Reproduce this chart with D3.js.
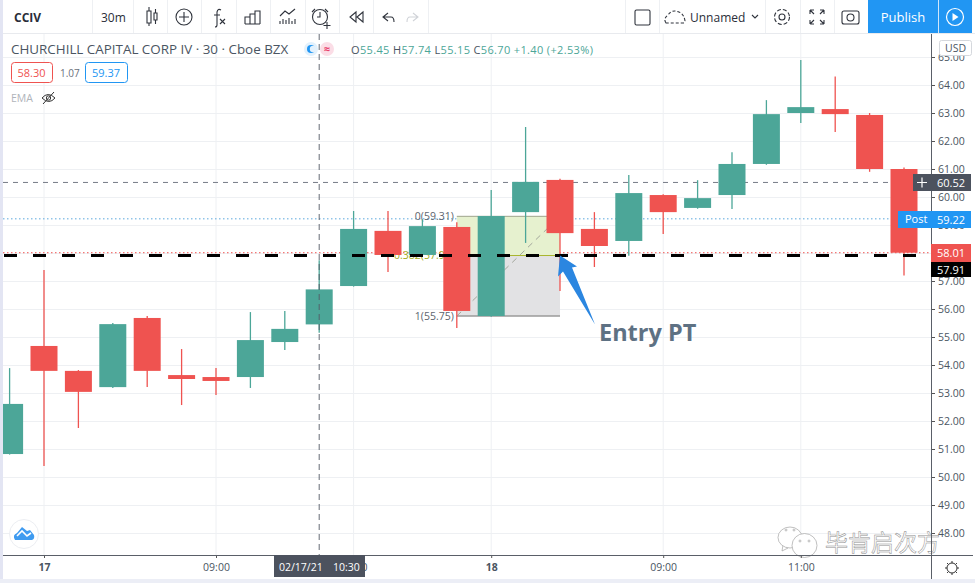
<!DOCTYPE html>
<html>
<head>
<meta charset="utf-8">
<script src="https://cdn.jsdelivr.net/npm/d3@7"></script>
<style>
  html, body { margin: 0; padding: 0; background: #fff; }
  svg { display: block; font-family: "Open Sans", "Noto Sans", sans-serif; }
</style>
</head>
<body>
<svg id="target" width="975" height="583"></svg>
<script>
// candles
const opens  = [50.82, 54.68, 53.79, 53.21, 55.68, 53.64, 53.57, 53.57, 54.82, 55.45, 56.82, 58.79, 57.93, 58.93, 55.75, 59.46, 60.61, 58.86, 58.43, 60.07, 59.61, 60.07, 61.18, 63.00, 63.14, 62.93, 61.00];
const highs  = [53.89, 57.39, 53.82, 55.50, 55.75, 54.57, 53.89, 55.89, 55.93, 57.74, 59.50, 59.50, 59.20, 59.10, 60.25, 62.50, 60.65, 59.46, 60.79, 60.10, 60.60, 61.60, 63.46, 64.89, 64.30, 63.00, 61.05];
const lows   = [50.80, 50.39, 51.75, 53.18, 53.21, 52.57, 52.93, 53.18, 54.54, 55.15, 56.80, 57.32, 57.90, 55.32, 55.72, 58.36, 56.64, 57.50, 57.90, 58.68, 59.58, 59.57, 61.15, 62.64, 62.32, 60.90, 57.20];
const closes = [52.61, 53.79, 53.04, 55.46, 53.79, 53.50, 53.43, 54.89, 55.29, 56.70, 58.86, 57.93, 58.96, 55.93, 59.32, 60.54, 58.71, 58.25, 60.14, 59.46, 59.96, 61.18, 62.96, 63.21, 62.96, 61.00, 58.01];

const priceTicks = [48, 49, 50, 51, 52, 53, 54, 55, 56, 57, 58, 59, 60, 61, 62, 63, 64, 65];
const timeTicks = [1, 6, 10, 14, 19, 23];
const timeLabels = ["17", "09:00", "10:00", "18", "09:00", "11:00"];

const fibTop = 59.31, fibMid = 57.91, fibBottom = 55.75;
const fibStart = 13, fibEnd = 16;
const lastPrice = 58.01, postPrice = 59.22, crossPrice = 60.52, entryPrice = 57.91;
const crossIndex = 9;

const green = "#4ca698", red = "#ef5350", blue = "#2196f3", textCol = "#4a5562";
const plotL = 3, plotR = 931, plotT = 34, plotB = 555;

const svg = d3.select("#target");
const x = d3.scaleLinear().domain([0, 26]).range([9.6, 904]);
const y = d3.scaleLinear().domain([48, 65]).range([533, 57]);
const barW = 27;

svg.append("defs").append("clipPath").attr("id", "plot")
  .append("rect").attr("x", plotL).attr("y", plotT).attr("width", plotR - plotL).attr("height", plotB - plotT);

// page edges
svg.append("rect").attr("width", 3).attr("height", 583).attr("fill", "#e3e5f3");
svg.append("rect").attr("y", 579).attr("width", 975).attr("height", 4).attr("fill", "#eceef6");

// grid
const grid = svg.append("g").attr("clip-path", "url(#plot)").attr("stroke", "#eef0f3");
grid.selectAll("line.h").data(priceTicks).enter().append("line").attr("class", "h")
  .attr("x1", plotL).attr("x2", plotR).attr("y1", d => y(d) + 0.5).attr("y2", d => y(d) + 0.5);
grid.selectAll("line.v").data(timeTicks).enter().append("line").attr("class", "v")
  .attr("x1", d => x(d)).attr("x2", d => x(d)).attr("y1", plotT).attr("y2", plotB);

const plot = svg.append("g").attr("clip-path", "url(#plot)");

// price lines
function priceLine(v, col, dash, w) {
  return plot.append("line").attr("x1", plotL).attr("x2", plotR).attr("y1", y(v)).attr("y2", y(v))
    .attr("stroke", col).attr("stroke-dasharray", dash).attr("stroke-width", w);
}
priceLine(crossPrice, "#757b86", "5 5", 1);
priceLine(postPrice, "#5ba7dd", "1.5 2.5", 1);
priceLine(lastPrice, "#ef5350", "1.5 2.5", 1);

// fib retracement
const fx0 = x(fibStart), fx1 = x(fibEnd);
plot.append("rect").attr("x", fx0).attr("width", fx1 - fx0)
  .attr("y", y(fibTop)).attr("height", y(fibMid) - y(fibTop)).attr("fill", "#e6f1cf");
plot.append("rect").attr("x", fx0).attr("width", fx1 - fx0)
  .attr("y", y(fibMid)).attr("height", y(fibBottom) - y(fibMid)).attr("fill", "#e2e2e4");
plot.append("line").attr("x1", fx0).attr("x2", fx1).attr("y1", y(fibTop)).attr("y2", y(fibTop)).attr("stroke", "#9fa58c");
plot.append("line").attr("x1", fx0).attr("x2", fx1).attr("y1", y(fibMid)).attr("y2", y(fibMid)).attr("stroke", "#a8b52d");
plot.append("line").attr("x1", fx0).attr("x2", fx1).attr("y1", y(fibBottom)).attr("y2", y(fibBottom)).attr("stroke", "#9a9a9a").attr("stroke-width", 1.5);
plot.append("line").attr("x1", fx0).attr("x2", fx1).attr("y1", y(fibBottom)).attr("y2", y(fibTop))
  .attr("stroke", "#a3a79c").attr("stroke-dasharray", "6 5");
plot.append("text").attr("x", fx0 - 3).attr("y", y(fibTop) + 4).attr("text-anchor", "end")
  .attr("font-size", 10.5).attr("fill", "#5d646e").text("0(59.31)");
plot.append("text").attr("x", fx0 - 3).attr("y", y(fibMid) + 3).attr("text-anchor", "end")
  .attr("font-size", 10.5).attr("fill", "#a3ad22").text("0.382(57.95)");
plot.append("text").attr("x", fx0 - 3).attr("y", y(fibBottom) + 4).attr("text-anchor", "end")
  .attr("font-size", 10.5).attr("fill", "#5d646e").text("1(55.75)");

// candles
const candles = d3.range(opens.length);
const colour = i => closes[i] >= opens[i] ? green : red;
plot.selectAll("line.wick").data(candles).enter().append("line").attr("class", "wick")
  .attr("x1", i => x(i)).attr("x2", i => x(i))
  .attr("y1", i => y(highs[i])).attr("y2", i => y(lows[i]))
  .attr("stroke", colour).attr("stroke-width", 1.3);
plot.selectAll("rect.body").data(candles).enter().append("rect").attr("class", "body")
  .attr("x", i => x(i) - barW / 2).attr("width", barW)
  .attr("y", i => y(Math.max(opens[i], closes[i])))
  .attr("height", i => Math.abs(y(opens[i]) - y(closes[i])))
  .attr("fill", colour);

// entry line and crosshair
priceLine(entryPrice, "#000", "13 16", 3).attr("stroke-dashoffset", -1);
plot.append("line").attr("x1", x(crossIndex)).attr("x2", x(crossIndex)).attr("y1", plotT).attr("y2", plotB)
  .attr("stroke", "#555b66").attr("stroke-width", 0.9).attr("stroke-dasharray", "6 4");

// arrow and note
const tipX = x(fibEnd), tipY = y(entryPrice);
svg.append("path")
  .attr("transform", `translate(${tipX},${tipY})`)
  .attr("d", "M0,0 L17,11 L12,12 L35,69 L3,16 L-2,21 Z")
  .attr("fill", "#2b86e0");
svg.append("text").attr("x", tipX + 39).attr("y", tipY + 85)
  .attr("font-size", 23.5).attr("font-weight", 700).attr("fill", "#5e7183").text("Entry PT");

// watermark
const wm = svg.append("g").attr("fill", "#fff").attr("stroke", "#a5a5a5").attr("stroke-width", 0.7);
wm.append("path").attr("d", "M783,545l-1,6 6,-3z");
wm.append("ellipse").attr("cx", 790).attr("cy", 537.5).attr("rx", 12).attr("ry", 10.5);
wm.append("ellipse").attr("cx", 804.5).attr("cy", 545.5).attr("rx", 12.5).attr("ry", 12);
wm.selectAll("circle").data([[786, 530], [794, 530], [800, 541], [809, 541]]).enter().append("circle")
  .attr("cx", d => d[0]).attr("cy", d => d[1]).attr("r", 1);
svg.append("text").attr("x", 825).attr("y", 551).attr("font-size", 23)
  .attr("font-family", "Noto Sans CJK SC").attr("fill", "#fff").attr("stroke", "#8e8e8e").attr("stroke-width", 0.5).text("毕肯启次方");

// price axis
const yAxis = svg.append("g").attr("transform", `translate(${plotR},0)`)
  .call(d3.axisRight(y).tickValues(priceTicks).tickFormat(d3.format(".2f")).tickSizeInner(4).tickSizeOuter(0).tickPadding(3));
yAxis.select(".domain").remove();
yAxis.selectAll("line").attr("stroke", "#555");
yAxis.selectAll("text").attr("font-size", 10.5).attr("fill", "#4a5562").attr("font-family", "Open Sans");
svg.append("line").attr("x1", plotR + 0.5).attr("x2", plotR + 0.5).attr("y1", 33).attr("y2", 579).attr("stroke", "#5a5f68");

// time axis
const xAxis = svg.append("g").attr("transform", `translate(0,${plotB})`)
  .call(d3.axisBottom(x).tickValues(timeTicks).tickFormat((d, i) => timeLabels[i]).tickSizeInner(3).tickSizeOuter(0).tickPadding(6));
xAxis.select(".domain").remove();
xAxis.selectAll("line").attr("stroke", "#555");
xAxis.selectAll("text").attr("font-size", 10.5).attr("fill", "#4a5562").attr("font-family", "Open Sans")
  .attr("font-weight", (d, i) => timeLabels[i].length < 3 ? 700 : 400);
svg.append("line").attr("x1", plotL).attr("x2", 973).attr("y1", plotB + 0.5).attr("y2", plotB + 0.5).attr("stroke", "#5a5f68");

// axis tags
function tag(x0, w, y0, h, fill, label, col) {
  svg.append("rect").attr("x", x0).attr("y", y0).attr("width", w).attr("height", h).attr("fill", fill);
  svg.append("text").attr("x", 965).attr("y", y0 + h / 2 + 4).attr("text-anchor", "end")
    .attr("font-size", 11).attr("fill", col).text(label);
}
tag(913, 58, 174, 17, "#4c525e", d3.format(".2f")(crossPrice), "#fff");
svg.append("path").attr("d", "M917,182.5h10M922,177.5v10").attr("stroke", "#fff").attr("stroke-width", 1.2);
tag(898, 73, 211, 17, blue, d3.format(".2f")(postPrice), "#fff");
svg.append("text").attr("x", 905).attr("y", 223).attr("font-size", 11).attr("fill", "#fff").text("Post");
tag(931, 40, 244, 18, red, d3.format(".2f")(lastPrice), "#fff");
tag(931, 40, 262, 15, "#000", d3.format(".2f")(entryPrice), "#fff");
svg.append("rect").attr("x", 939.5).attr("y", 40.5).attr("width", 32).attr("height", 15).attr("rx", 2)
  .attr("fill", "#fff").attr("stroke", "#d5d8dd");
svg.append("text").attr("x", 955.5).attr("y", 52).attr("text-anchor", "middle").attr("font-size", 10.5).attr("fill", "#4a5562").text("USD");
svg.append("rect").attr("x", 274).attr("y", plotB).attr("width", 91).attr("height", 22).attr("fill", "#4c525e");
svg.append("text").attr("x", 279).attr("y", 571).attr("font-size", 10.5).attr("fill", "#fff").text("02/17/21");
svg.append("text").attr("x", 333).attr("y", 571).attr("font-size", 10.5).attr("fill", "#fff").text("10:30");

// settings gear under the price axis
const gear = svg.append("g").attr("transform", "translate(952,568)").attr("fill", "none").attr("stroke", "#333");
gear.append("circle").attr("r", 5);
d3.range(8).forEach(k => {
  const a = k * Math.PI / 4;
  gear.append("line").attr("x1", 5 * Math.cos(a)).attr("y1", 5 * Math.sin(a)).attr("x2", 7 * Math.cos(a)).attr("y2", 7 * Math.sin(a));
});

// toolbar
svg.append("rect").attr("x", plotL).attr("width", 972).attr("height", 33).attr("fill", "#fff");
svg.append("line").attr("x1", plotL).attr("x2", 975).attr("y1", 33.5).attr("y2", 33.5).attr("stroke", "#e8eaee");
const seps = [92, 133, 167, 201, 236, 270, 305, 339, 373, 428, 625, 659, 765, 800, 834];
svg.selectAll("line.sep").data(seps).enter().append("line").attr("class", "sep")
  .attr("x1", d => d + 0.5).attr("x2", d => d + 0.5).attr("y1", 0).attr("y2", 33).attr("stroke", "#eef0f3");
svg.append("text").attr("x", 14).attr("y", 22).attr("font-size", 12).attr("font-weight", 700).attr("fill", "#2a2e39").text("CCIV");
svg.append("text").attr("x", 101).attr("y", 22).attr("font-size", 12).attr("fill", "#2a2e39").text("30m");
svg.append("text").attr("x", 690).attr("y", 22).attr("font-size", 12).attr("fill", "#2a2e39").text("Unnamed");
svg.append("rect").attr("x", 868).attr("width", 104).attr("height", 33).attr("fill", blue);
svg.append("line").attr("x1", 938.5).attr("x2", 938.5).attr("y1", 0).attr("y2", 33).attr("stroke", "#cfe6fb");
svg.append("text").attr("x", 903).attr("y", 22).attr("text-anchor", "middle").attr("font-size", 13).attr("fill", "#fff").text("Publish");

const icons = svg.append("g").attr("fill", "none").attr("stroke", "#2f333c").attr("stroke-width", 1.1);
icons.append("path").attr("d", "M147,11h4v12h-4zM149,7v4M149,23v3M154,13h3v7h-3zM155.5,9v4M155.5,20v4");
icons.append("circle").attr("cx", 184).attr("cy", 17).attr("r", 8);
icons.append("path").attr("d", "M184,12v10M179,17h10");
icons.append("path").attr("d", "M221,10q-3,-2 -4,2v13q0,2 -2,2M214,15h6M220,19l5,5M225,19l-5,5");
icons.append("path").attr("d", "M245,24v-7h5v7M250,24v-10h5v10M255,24v-13h5v13M245,24h15");
icons.append("path").attr("d", "M280,16l5,-5 4,3 6,-5M280,24v-3M283,24v-5M286,24v-4M289,24v-6M292,24v-3M295,24v-5");
icons.append("circle").attr("cx", 320).attr("cy", 17).attr("r", 7.5);
icons.append("path").attr("d", "M320,12v5h-3M315,9l-3,3M325,9l3,3M327,22v7M323.5,25.5h7");
icons.append("path").attr("d", "M356,12l-6,5 6,5zM363,12l-6,5 6,5z");
icons.append("path").attr("d", "M388,13l-5,4 5,4M383,17h8q3,0 3,5");
icons.append("path").attr("d", "M413,13l5,4 -5,4M418,17h-8q-3,0 -3,5").attr("stroke", "#d0d3d8");
icons.append("rect").attr("x", 635).attr("y", 10).attr("width", 15).attr("height", 15).attr("rx", 1.5);
icons.append("path").attr("d", "M666,23q-3,-4 2,-8q4,-6 11,-3q5,2 6,9q0,2 -2,2z").attr("stroke-dasharray", "3 2");
icons.append("path").attr("d", "M752,15l3,3 3,-3");
icons.append("circle").attr("cx", 782).attr("cy", 17).attr("r", 3);
icons.append("circle").attr("cx", 782).attr("cy", 17).attr("r", 7.5).attr("stroke-dasharray", "4 2");
icons.append("path").attr("d", "M810,10h4M810,10v4M810,10l4,4M824,10h-4M824,10v4M824,10l-4,4M810,24h4M810,24v-4M810,24l4,-4M824,24h-4M824,24v-4M824,24l-4,-4");
icons.append("rect").attr("x", 842).attr("y", 11).attr("width", 17).attr("height", 13).attr("rx", 2);
icons.append("circle").attr("cx", 850.5).attr("cy", 17.5).attr("r", 3.5);
svg.append("circle").attr("cx", 955).attr("cy", 17).attr("r", 8.5).attr("fill", "none").attr("stroke", "#fff").attr("stroke-width", 1.2);
svg.append("path").attr("d", "M952.5,13l6,4 -6,4z").attr("fill", "#fff");

// legend
const titleParts = "CHURCHILL CAPITAL CORP IV · 30 · Cboe BZX";
svg.append("text").attr("x", 11).attr("y", 54).attr("font-size", 13.4).attr("fill", textCol).text(titleParts);
svg.append("circle").attr("cx", 311).attr("cy", 49).attr("r", 7).attr("fill", "#e3f1fc");
svg.append("circle").attr("cx", 311).attr("cy", 49).attr("r", 4).attr("fill", blue);
svg.append("circle").attr("cx", 313).attr("cy", 49).attr("r", 3.2).attr("fill", "#e3f1fc");
svg.append("circle").attr("cx", 327).attr("cy", 49).attr("r", 7).attr("fill", "#fbdde6");
svg.append("text").attr("x", 327).attr("y", 53).attr("text-anchor", "middle").attr("font-size", 11).attr("font-weight", 700).attr("fill", "#e8426d").text("≈");

const ohlc = [["O", "55.45"], ["H", "57.74"], ["L", "55.15"], ["C", "56.70"]];
const ohlcText = svg.append("text").attr("x", 351).attr("y", 54).attr("font-size", 11).attr("letter-spacing", 0.35).attr("fill", green);
ohlc.forEach(p => {
  ohlcText.append("tspan").attr("fill", textCol).text(p[0]);
  ohlcText.append("tspan").text(p[1] + " ");
});
ohlcText.append("tspan").text("+1.40 (+2.53%)");

function priceBox(x0, w, col, label) {
  svg.append("rect").attr("x", x0 + 0.5).attr("y", 62.5).attr("width", w).attr("height", 20).attr("rx", 3)
    .attr("fill", "#fff").attr("stroke", col);
  svg.append("text").attr("x", x0 + w / 2).attr("y", 77).attr("text-anchor", "middle").attr("font-size", 11).attr("fill", col).text(label);
}
priceBox(11, 41, red, "58.30");
svg.append("text").attr("x", 60).attr("y", 77).attr("font-size", 10).attr("fill", "#6a717c").text("1.07");
priceBox(85, 42, blue, "59.37");
svg.append("text").attr("x", 11).attr("y", 102).attr("font-size", 10.5).attr("fill", "#b0b4ba").text("EMA");
const eye = svg.append("g").attr("fill", "none").attr("stroke", "#333").attr("stroke-width", 1);
eye.append("path").attr("d", "M42,98q6,-7 13,0q-6,7 -13,0z");
eye.append("circle").attr("cx", 48.5).attr("cy", 98).attr("r", 2.2);
eye.append("path").attr("d", "M43,104l11,-12");

// logo bottom left
svg.append("circle").attr("cx", 24).attr("cy", 534).attr("r", 14.5).attr("fill", "#fff").attr("stroke", "#eceef2");
svg.append("path").attr("d", "M15,540q-3,-5 2,-7l5,-6 5,4 3,-1 4,5q1,4 -2,5z").attr("fill", "#3f9bf0");
svg.append("path").attr("d", "M17,536l5,-5 5,5 4,-3").attr("fill", "none").attr("stroke", "#fff").attr("stroke-width", 1.6);
</script>
</body>
</html>
